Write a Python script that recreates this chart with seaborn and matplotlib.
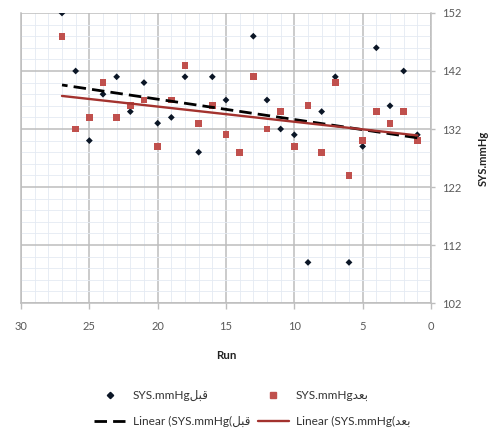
import matplotlib
matplotlib.use("Agg")
import matplotlib.pyplot as plt
from matplotlib.ticker import MultipleLocator
from matplotlib.lines import Line2D
import numpy as np
import pandas as pd
import seaborn as sns

# Run numbers (x axis runs from 30 down to 0)
runs = list(range(27, 0, -1))

# Systolic pressure before (قبل) and after (بعد)
sys_before = [152, 142, 130, 138, 141, 135, 140, 133, 134, 141, 128, 141, 137, 128,
              148, 137, 132, 131, 109, 135, 141, 109, 129, 146, 136, 142, 131]
sys_after = [148, 132, 134, 140, 134, 136, 137, 129, 137, 143, 133, 136, 131, 128,
             141, 132, 135, 129, 136, 128, 140, 124, 130, 135, 133, 135, 130]

x_ticks = [30, 25, 20, 15, 10, 5, 0]
y_ticks = [102, 112, 122, 132, 142, 152]

# Arabic words written in presentation forms, laid out left to right
before_word = "\ufede\ufe92\ufed7"   # قبل
after_word = "\ufeaa\ufecc\ufe91"    # بعد

label_before = "SYS.mmHg" + before_word
label_after = "SYS.mmHg" + after_word
label_fit_before = "Linear (SYS.mmHg(" + before_word
label_fit_after = "Linear (SYS.mmHg(" + after_word

df = pd.DataFrame({"Run": runs, "before": sys_before, "after": sys_after})

sns.set_theme(style="white")
plt.rcParams["font.family"] = ["Lato", "DejaVu Sans"]

black = "#0b1626"
red_pt = "#c0504d"
red_ln = "#a3322e"
txt = "#595959"

fig = plt.figure(figsize=(4.95, 4.29), dpi=100)
ax = fig.add_axes([0.0424, 0.2937, 0.8283, 0.676])

sns.scatterplot(data=df, x="Run", y="before", ax=ax, marker="D", s=12,
                color=black, edgecolor="none", zorder=4, label=label_before)
sns.scatterplot(data=df, x="Run", y="after", ax=ax, marker="s", s=24,
                color=red_pt, edgecolor="none", zorder=5, label=label_after)
sns.regplot(data=df, x="Run", y="before", ax=ax, scatter=False, ci=None,
            line_kws=dict(color="black", lw=2.0, dashes=(4.5, 2.2), zorder=6))
sns.regplot(data=df, x="Run", y="after", ax=ax, scatter=False, ci=None,
            line_kws=dict(color=red_ln, lw=1.7, zorder=6))

ax.set_xlim(30, 0)
ax.set_ylim(102, 152)
ax.set_xticks(x_ticks)
ax.set_yticks(y_ticks)
ax.xaxis.set_minor_locator(MultipleLocator(1))
ax.yaxis.set_minor_locator(MultipleLocator(2))
ax.grid(which="major", color="#bdbdbd", lw=1.1, zorder=1)
ax.grid(which="minor", color="#e4eaf3", lw=0.6, zorder=0)
ax.set_axisbelow(True)

ax.yaxis.tick_right()
ax.yaxis.set_label_position("right")
for side in ["left", "bottom", "right"]:
    ax.spines[side].set_visible(True)
    ax.spines[side].set_color("#bdbdbd")
    ax.spines[side].set_linewidth(1.1)
ax.spines["top"].set_visible(False)

ax.tick_params(axis="x", which="major", bottom=True, direction="out", length=4,
               width=1, color="#bdbdbd", pad=9, labelsize=8, labelcolor=txt)
ax.tick_params(axis="y", which="major", right=True, left=False, direction="out",
               length=3, width=1, color="#bdbdbd", pad=5, labelsize=8,
               labelcolor=txt)
ax.tick_params(which="minor", length=0)

ax.set_xlabel("Run", fontsize=8.3, fontweight="bold", color="#222222", labelpad=13)
ax.set_ylabel("SYS.mmHg", fontsize=8, fontweight="bold", color="#222222",
              labelpad=12)

if ax.get_legend() is not None:
    ax.get_legend().remove()

handles = [
    Line2D([], [], ls="none", marker="D", ms=3.2, color=black),
    Line2D([], [], color="black", lw=2.0, dashes=(4.5, 2.2)),
    Line2D([], [], ls="none", marker="s", ms=4.6, color=red_pt),
    Line2D([], [], color=red_ln, lw=1.7),
]
labels = [label_before, label_fit_before, label_after, label_fit_after]
fig.legend(handles, labels, ncol=2, loc="center", bbox_to_anchor=(0.51, 0.048),
           frameon=False, fontsize=8.6, handlelength=2.6, handletextpad=0.6,
           columnspacing=0.65, labelspacing=1.25, labelcolor="#333333")

fig.savefig("out.png", dpi=100)
